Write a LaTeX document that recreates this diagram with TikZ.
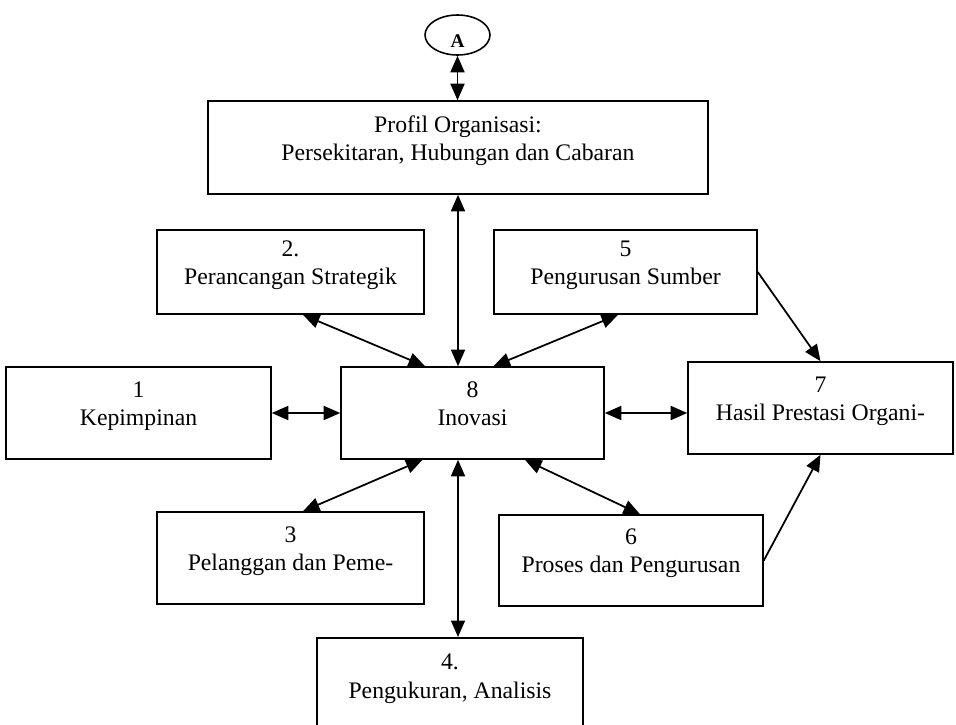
\documentclass[tikz,border=0pt]{standalone}
\usepackage{fontspec}
\setmainfont{Liberation Serif}
\usetikzlibrary{arrows.meta,shapes.geometric}

\begin{document}
\begin{tikzpicture}[x=0.02cm, y=-0.02cm,
    box/.style={draw, line width=0.9pt, align=center, font=\fontsize{13.5}{16}\selectfont,
                text depth=0.38cm},
    link/.style={line width=1pt, {Triangle[length=3.3mm,width=2.8mm]}-{Triangle[length=3.3mm,width=2.8mm]}},
    flow/.style={line width=1pt, -{Triangle[length=3.3mm,width=2.8mm]}}]
    % Frame
    \useasboundingbox (0,0) rectangle (956,724);
    \clip (0,0) rectangle (956,724);

    % Top marker
    \node[draw, ellipse, line width=0.9pt, minimum width=1.3cm, minimum height=0.8cm, inner sep=0pt,
          font=\fontsize{11}{13}\selectfont\bfseries, text height=0.5cm, text depth=0pt] (oval) at (457.5,35) {A};

    % Boxes
    \node[box, minimum width=10cm, minimum height=1.86cm] (prof) at (458,147.5)
        {Profil Organisasi:\\Persekitaran, Hubungan dan Cabaran};
    \node[box, minimum width=5.34cm, minimum height=1.68cm] (m2) at (290.5,272) {2.\\Perancangan Strategik};
    \node[box, minimum width=5.26cm, minimum height=1.68cm] (m5) at (625.5,272) {5\\Pengurusan Sumber};
    \node[box, minimum width=5.3cm, minimum height=1.84cm] (m1) at (138.5,413) {1\\Kepimpinan};
    \node[box, minimum width=5.26cm, minimum height=1.84cm] (m8) at (472.5,413) {8\\Inovasi};
    \node[box, minimum width=5.3cm, minimum height=1.84cm] (m7) at (820.5,408) {7\\Hasil Prestasi Organi-};
    \node[box, minimum width=5.34cm, minimum height=1.84cm] (m3) at (290.5,558) {3\\Pelanggan dan Peme-};
    \node[box, minimum width=5.28cm, minimum height=1.82cm] (m6) at (631,560.5) {6\\Proses dan Pengurusan};
    \node[box, minimum width=5.32cm, anchor=north, inner ysep=0.33cm, text depth=1.5cm] (m4) at (450,637)
        {4.\\Pengukuran, Analisis};

    % Connectors
    \draw[link] (oval.south) -- (oval.south |- prof.north);
    \draw[link] (prof.south) -- (prof.south |- m8.north);
    \draw[link] (m8.south -| prof.south) -- (m4.north -| prof.south);
    \draw[link] (m1.east) -- (m8.west);
    \draw[link] (m8.east) -- (m8.east -| m7.west);
    \draw[link] ([xshift=0.25cm]m2.south) -- ([xshift=-0.95cm]m8.north);
    \draw[link] ([xshift=-0.15cm]m5.south) -- ([xshift=0.42cm]m8.north);
    \draw[link] ([xshift=-1cm]m8.south) -- ([xshift=0.25cm]m3.north);
    \draw[link] ([xshift=1.05cm]m8.south) -- ([xshift=0.18cm]m6.north);
    \draw[flow] (m5.east) -- (m7.north);
    \draw[flow] (m6.east) -- (m7.south);
\end{tikzpicture}
\end{document}
